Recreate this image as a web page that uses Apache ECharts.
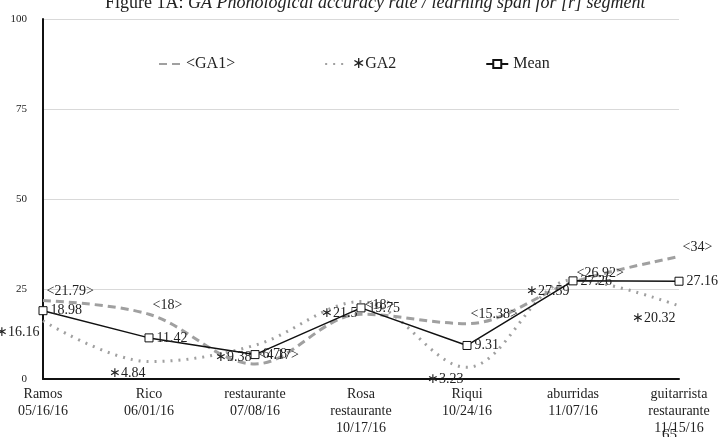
<!DOCTYPE html>
<html>
<head>
<meta charset="utf-8">
<script src="https://cdn.jsdelivr.net/npm/echarts@6/dist/echarts.min.js"></script>
<style>
  html, body { margin: 0; padding: 0; background: #fff; }
  #chart { width: 719px; height: 437px; }
</style>
</head>
<body>
<div id="chart"></div>
<script>
var categories = [
  'Ramos\n05/16/16',
  'Rico\n06/01/16',
  'restaurante\n07/08/16',
  'Rosa\nrestaurante\n10/17/16',
  'Riqui\n10/24/16',
  'aburridas\n11/07/16',
  'guitarrista\nrestaurante\n11/15/16'
];
var ga1 = [21.79, 18, 4.17, 18, 15.38, 26.92, 34];
var ga2 = [16.16, 4.84, 9.38, 21.5, 3.23, 27.59, 20.32];
var mean = [18.98, 11.42, 6.78, 19.75, 9.31, 27.26, 27.16];
var yTicks = [0, 25, 50, 75, 100];

var serif = 'Liberation Serif';
var clear = 'rgba(0,0,0,0)';
var myChart = echarts.init(document.getElementById('chart'));

myChart.setOption({
  animation: false,
  title: {
    text: '{n|Figure 1A: }{i|GA Phonological accuracy rate / learning span for [r] segment}',
    left: 100,
    top: -11,
    textStyle: {
      rich: {
        n: { fontFamily: serif, fontSize: 18, fontWeight: 'normal', color: '#222' },
        i: { fontFamily: serif, fontSize: 18, fontWeight: 'normal', fontStyle: 'italic', color: '#222' }
      }
    }
  },
  legend: {
    top: 51,
    left: 153,
    itemGap: 89,
    itemWidth: 22,
    itemHeight: 10,
    textStyle: { fontFamily: serif, fontSize: 16, color: '#222' },
    formatter: function (name) {
      return name === 'GA2' ? '\u2217GA2' : name;
    },
    data: ['<GA1>', 'GA2', 'Mean']
  },
  grid: {
    left: 43,
    right: 40,
    top: 19,
    bottom: 58
  },
  xAxis: {
    type: 'category',
    boundaryGap: false,
    data: categories,
    axisLine: { lineStyle: { color: '#111', width: 2 } },
    axisTick: { show: false },
    axisLabel: {
      interval: 0,
      margin: 7,
      fontFamily: serif,
      fontSize: 14,
      lineHeight: 17,
      color: '#222'
    }
  },
  yAxis: {
    type: 'value',
    min: yTicks[0],
    max: yTicks[yTicks.length - 1],
    interval: 25,
    axisLine: { show: true, lineStyle: { color: '#111', width: 2 } },
    axisTick: { show: false },
    splitLine: { lineStyle: { color: '#d9d9d9', width: 1 } },
    axisLabel: {
      margin: 16,
      fontFamily: serif,
      fontSize: 11,
      color: '#222'
    }
  },
  series: [
    {
      name: '<GA1>',
      type: 'line',
      data: ga1,
      smooth: 0.35,
      symbol: 'circle',
      symbolSize: 2,
      lineStyle: { color: '#a0a0a0', width: 3, type: [8, 5] },
      itemStyle: { color: clear, borderColor: clear },
      label: {
        show: true,
        position: 'right',
        distance: 2,
        offset: [0, -9],
        fontFamily: serif,
        fontSize: 14,
        color: '#222',
        formatter: function (p) { return '<' + p.value + '>'; }
      },
      z: 2
    },
    {
      name: 'GA2',
      type: 'line',
      data: ga2,
      smooth: 0.35,
      symbol: 'circle',
      symbolSize: 2,
      lineStyle: { color: '#a0a0a0', width: 3, type: [2, 6] },
      itemStyle: { color: clear, borderColor: clear },
      label: {
        show: true,
        position: 'left',
        distance: 2,
        offset: [0, 12],
        fontFamily: serif,
        fontSize: 14,
        color: '#222',
        formatter: function (p) { return '\u2217' + p.value; }
      },
      z: 2
    },
    {
      name: 'Mean',
      type: 'line',
      data: mean,
      symbol: 'rect',
      symbolSize: 8,
      lineStyle: { color: '#111', width: 1.5 },
      itemStyle: { color: '#fff', borderColor: '#111', borderWidth: 1 },
      label: {
        show: true,
        position: 'right',
        distance: 3,
        fontFamily: serif,
        fontSize: 14,
        color: '#222',
        formatter: function (p) { return p.value.toFixed(2); }
      },
      z: 3
    }
  ],
  graphic: [
    {
      type: 'text',
      left: 662,
      top: 428,
      style: { text: '65', fontFamily: serif, fontSize: 15, fill: '#222' }
    }
  ]
});
</script>
</body>
</html>
